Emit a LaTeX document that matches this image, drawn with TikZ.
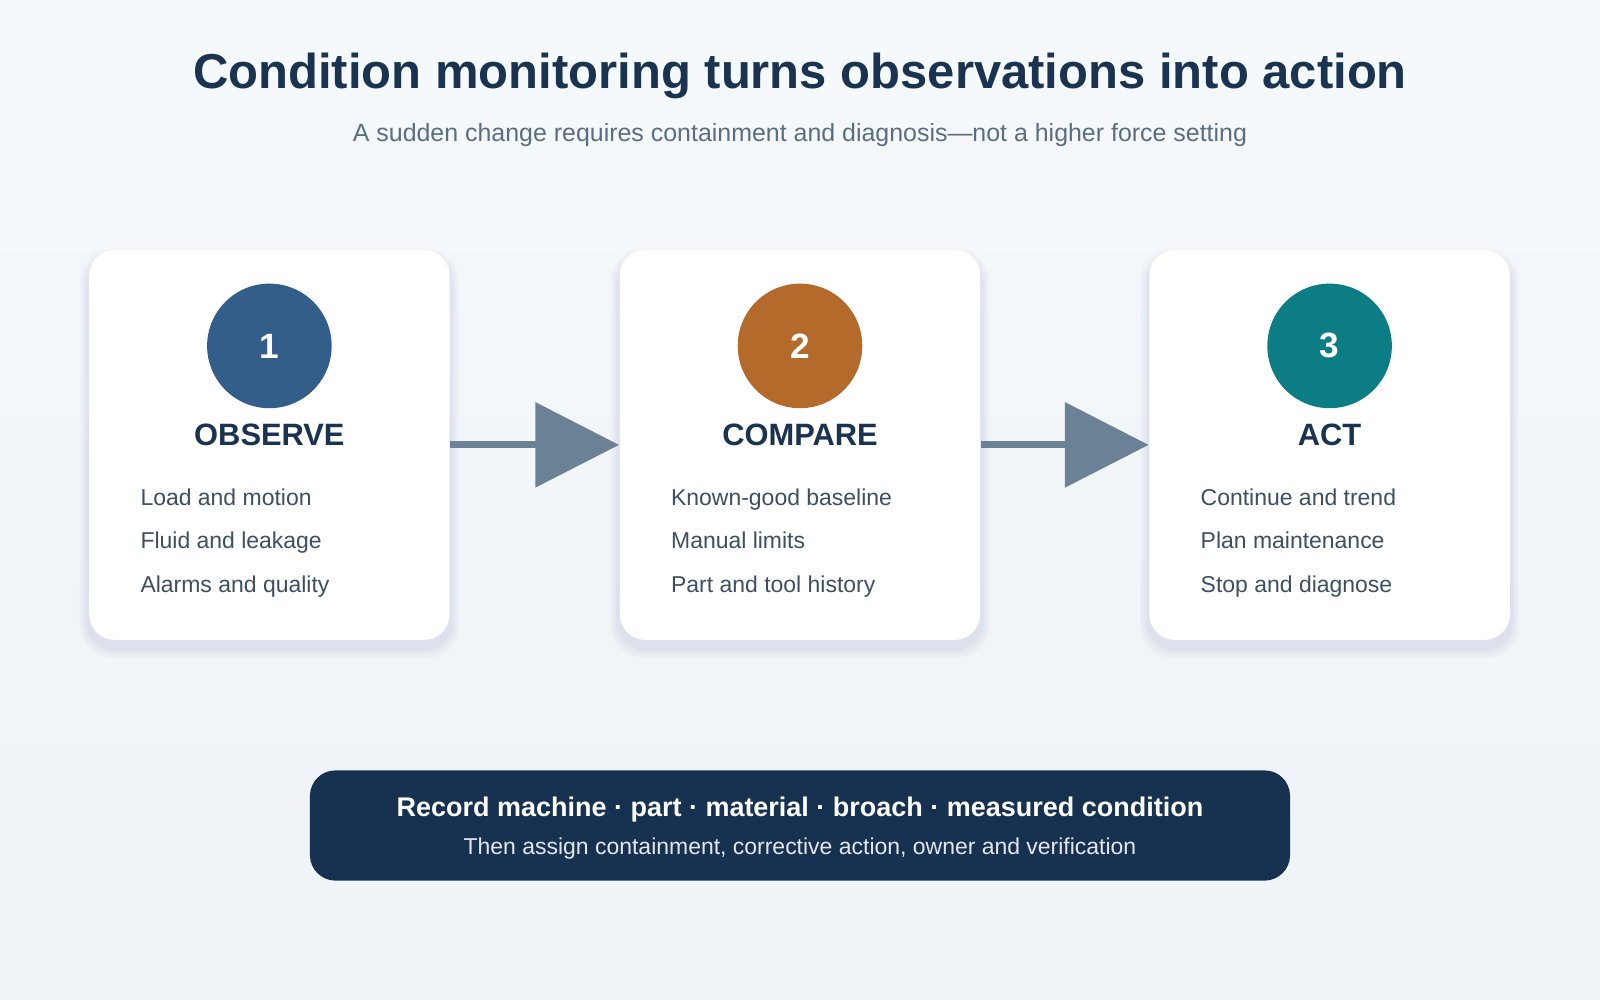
\documentclass[tikz,border=0pt]{standalone}
\usepackage{fontspec}
\setmainfont{Liberation Sans}
\usetikzlibrary{arrows.meta}
\definecolor{inkdark}{HTML}{1A3350}
\definecolor{inksub}{HTML}{5A6E80}
\definecolor{inkitem}{HTML}{3D4F60}
\definecolor{stepblue}{HTML}{335E8A}
\definecolor{steporange}{HTML}{B36A2B}
\definecolor{stepteal}{HTML}{0C7D84}
\definecolor{flowgray}{HTML}{6B8296}
\definecolor{notebg}{HTML}{173250}
\definecolor{bgtop}{HTML}{F6F9FB}
\definecolor{bgbot}{HTML}{EEF3F7}

\begin{document}
\begin{tikzpicture}[x=0.01cm, y=-0.01cm]
    \tikzset{card/.style={fill=white, rounded corners=0.25cm, minimum width=3.53cm, minimum height=3.82cm, inner sep=0pt}}
    \tikzset{shade card/.style={fill=black!60!blue, opacity=0.02, rounded corners=0.3cm, inner sep=0pt}}
    \tikzset{badge/.style={circle, minimum size=1.22cm, inner sep=0pt, text=white, font=\bfseries\fontsize{9.8pt}{11pt}\selectfont}}
    \tikzset{heading/.style={text=inkdark, font=\bfseries\fontsize{8.6pt}{10pt}\selectfont}}
    \tikzset{item/.style={text=inkitem, anchor=base west, inner sep=0pt, font=\fontsize{6.4pt}{7pt}\selectfont}}
    \tikzset{flow/.style={draw=flowgray, line width=0.07cm, -{Triangle[length=0.82cm, width=0.82cm]}, flowgray}}
    % background
    \shade[top color=bgtop, bottom color=bgbot] (0,0) rectangle (1568,980);
    \useasboundingbox (0,0) rectangle (1568,980);
    % title
    \node[text=inkdark, font=\bfseries\fontsize{13.65pt}{15pt}\selectfont] (title) at (784,74) {Condition monitoring turns observations into action};
    \node[text=inksub, font=\fontsize{6.95pt}{8pt}\selectfont] (subtitle) at (784,132) {A sudden change requires containment and diagnosis—not a higher force setting};
    % cards
    \foreach \name/\cx/\col/\num/\head/\ia/\ib/\ic in {
        observe/264/stepblue/1/OBSERVE/Load and motion/Fluid and leakage/Alarms and quality,
        compare/784/steporange/2/COMPARE/Known-good baseline/Manual limits/Part and tool history,
        act/1303/stepteal/3/ACT/Continue and trend/Plan maintenance/Stop and diagnose} {
        \foreach \s in {6,10,14,18}
            \node[shade card, minimum width=3.53cm+\s*0.01cm, minimum height=3.82cm+\s*0.01cm] at (\cx,444) {};
        \node[card] (\name) at (\cx,436) {};
        \node[badge, fill=\col] (\name-num) at (\cx,339) {\num};
        \node[heading] (\name-head) at (\cx,426) {\head};
        \node[item] (\name-a) at (\cx-127,495) {\ia};
        \node[item] (\name-b) at (\cx-127,538) {\ib};
        \node[item] (\name-c) at (\cx-127,581) {\ic};
    }
    % arrows
    \draw[flow] (observe.east) -- (compare.west);
    \draw[flow] (compare.east) -- (act.west);
    % record box
    \node[fill=notebg, rounded corners=0.25cm, minimum width=9.6cm, minimum height=1.08cm] (record) at (784,809) {};
    \node[text=white, font=\bfseries\fontsize{7.52pt}{9pt}\selectfont] (record-main) at (784,793) {Record machine · part · material · broach · measured condition};
    \node[text=white!88!notebg, font=\fontsize{6.4pt}{7pt}\selectfont] (record-sub) at (784,832) {Then assign containment, corrective action, owner and verification};
\end{tikzpicture}
\end{document}
